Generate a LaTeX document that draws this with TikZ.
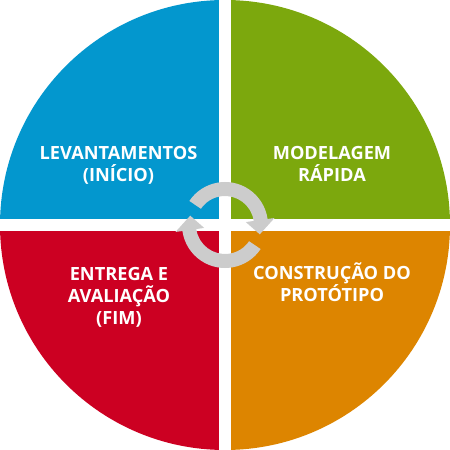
\documentclass[tikz,border=0pt]{standalone}
\usepackage{fontspec}
\setmainfont{Open Sans}
\definecolor{qblue}{HTML}{0397CE}
\definecolor{qgreen}{HTML}{7CA80D}
\definecolor{qred}{HTML}{CC0022}
\definecolor{qorange}{HTML}{DD8500}
\definecolor{ringgray}{HTML}{CCCCCC}
\tikzset{
  lbl/.style={text=white, font=\fontsize{18.2}{22}\selectfont\bfseries, align=center, inner sep=0pt, anchor=base},
  ringarrow/.style={fill=ringgray, draw=none}
}
\begin{document}
\begin{tikzpicture}[x=1pt,y=1pt]
\useasboundingbox (0,0) rectangle (450,450);
\begin{scope}
  \clip (225,225) circle (225);
  \fill[qblue] (0,231) rectangle (219,450);
  \fill[qgreen] (231,231) rectangle (450,450);
  \fill[qred] (0,0) rectangle (219,219);
  \fill[qorange] (231,0) rectangle (450,219);
\end{scope}
\begin{scope}[shift={(225,225)}]
  \fill[ringarrow] (146:43) arc[start angle=146, end angle=8, radius=43]
     -- (8:50) -- (-15:36) -- (8:21) -- (8:29)
     arc[start angle=8, end angle=146, radius=29] -- cycle;
  \fill[ringarrow] (-34:43) arc[start angle=-34, end angle=-172, radius=43]
     -- (188:50) -- (165:36) -- (188:21) -- (188:29)
     arc[start angle=-172, end angle=-34, radius=29] -- cycle;
\end{scope}
\node[lbl] (lev) at (118.5,268) {LEVANTAMENTOS\\(INÍCIO)};
\node[lbl] (mod) at (332,268) {MODELAGEM\\RÁPIDA};
\node[lbl] (ent) at (119,125) {ENTREGA E\\AVALIAÇÃO\\(FIM)};
\node[lbl] (con) at (332,148) {CONSTRUÇÃO DO\\PROTÓTIPO};
\end{tikzpicture}
\end{document}
